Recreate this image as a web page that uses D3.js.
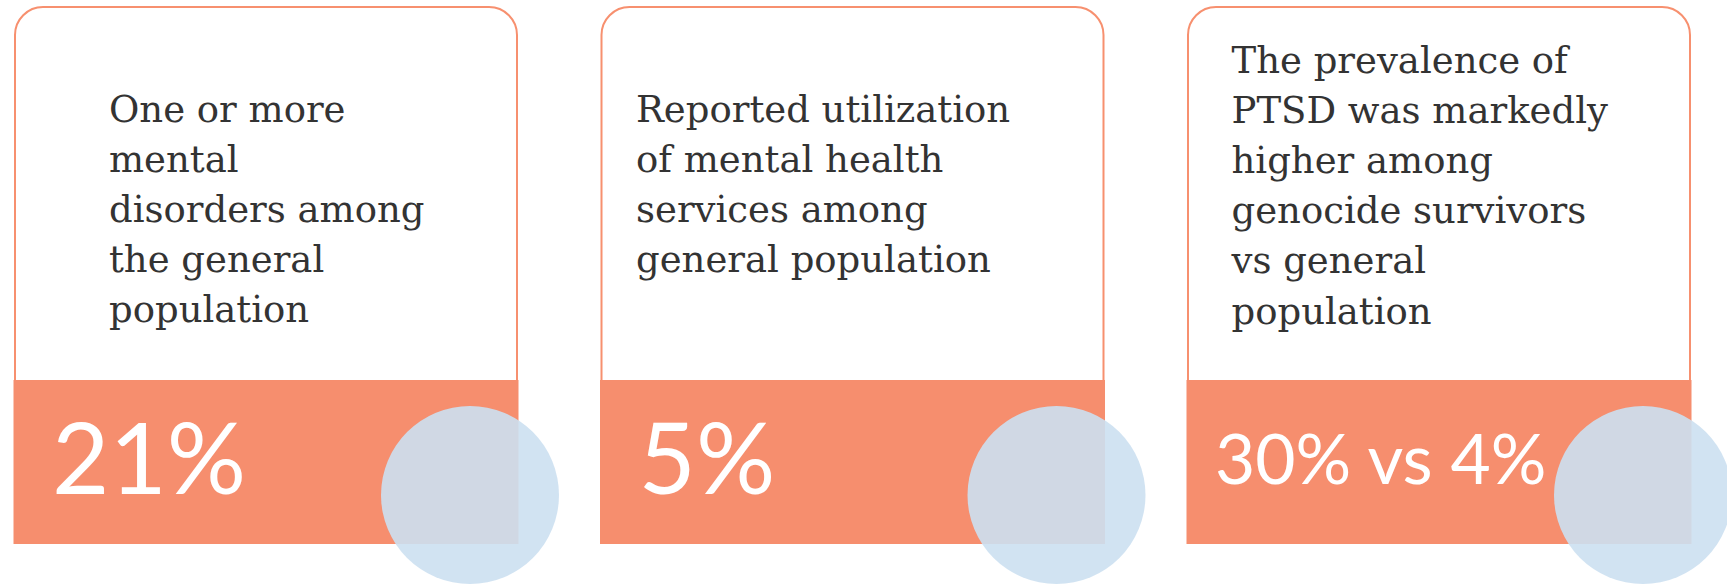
<!DOCTYPE html>
<html lang="en">
<head>
    <meta charset="UTF-8">
    <title>Mental health stat cards</title>
    <script src="https://d3js.org/d3.v7.min.js"></script>
    <style>
        body {
            margin: 0;
            background-color: #ffffff;
        }

        .card-border {
            fill: #ffffff;
            stroke: #f7906f;
            stroke-width: 2px;
        }

        .band {
            fill: #f68e6e;
        }

        .bubble {
            fill: #cce0f1;
            opacity: 0.9;
        }

        .desc {
            font-family: "DejaVu Serif", Georgia, serif;
            fill: #333333;
        }

        .value {
            font-family: Lato, Calibri, sans-serif;
            fill: #ffffff;
        }
    </style>
</head>
<body>
    <svg id="chart" width="1727" height="584"></svg>

    <script>
        // Card texts, one entry per card
        const descriptions = [
            ["One or more", "mental", "disorders among", "the general", "population"],
            ["Reported utilization", "of mental health", "services among", "general population"],
            ["The prevalence of", "PTSD was markedly", "higher among", "genocide survivors", "vs general", "population"]
        ];
        const values = ["21%", "5%", "30% vs 4%"];

        const svg = d3.select("#chart");

        const cardTop = 7;
        const bandTop = 380;
        const bandBottom = 544;
        const radius = 89;
        const lineHeight = 50.2;

        // Horizontal placement of the cards
        const x = d3.scaleBand()
            .domain(d3.range(values.length))
            .range([15, 1690])
            .paddingInner(84.5 / 586.5)
            .paddingOuter(0);

        const cards = svg.selectAll(".card")
            .data(values.map((v, i) => ({ value: v, lines: descriptions[i], i: i })))
            .enter().append("g")
            .attr("class", "card")
            .attr("transform", d => `translate(${x(d.i)},0)`);

        const w = x.bandwidth();

        // Outline with rounded top corners (bottom hidden by the band)
        cards.append("rect")
            .attr("class", "card-border")
            .attr("x", 0)
            .attr("y", cardTop)
            .attr("width", w)
            .attr("height", bandTop - cardTop + 30)
            .attr("rx", 28);

        // Orange band
        cards.append("rect")
            .attr("class", "band")
            .attr("x", -1.5)
            .attr("y", bandTop)
            .attr("width", w + 3)
            .attr("height", bandBottom - bandTop);

        // Description text (the long one overflows its box and starts higher)
        const textLeft = [94, 34.5, 43.5];
        cards.each(function(d) {
            const g = d3.select(this);
            const start = d.lines.length > 5 ? 72.5 : 121.5;
            g.append("text")
                .attr("class", "desc")
                .attr("font-size", 37)
                .selectAll("tspan")
                .data(d.lines)
                .enter().append("tspan")
                .attr("x", textLeft[d.i])
                .attr("y", (l, j) => start + j * lineHeight)
                .text(l => l);
        });

        // Big value
        cards.append("text")
            .attr("class", "value")
            .attr("x", d => d.value.length > 4 ? 27 : 37)
            .attr("y", d => d.value.length > 4 ? 484 : 494)
            .attr("font-size", d => d.value.length > 4 ? 69.5 : 99)
            .text(d => d.value);

        // Light blue bubble
        cards.append("circle")
            .attr("class", "bubble")
            .attr("cx", 455)
            .attr("cy", 406 + radius)
            .attr("r", radius);
    </script>
</body>
</html>
